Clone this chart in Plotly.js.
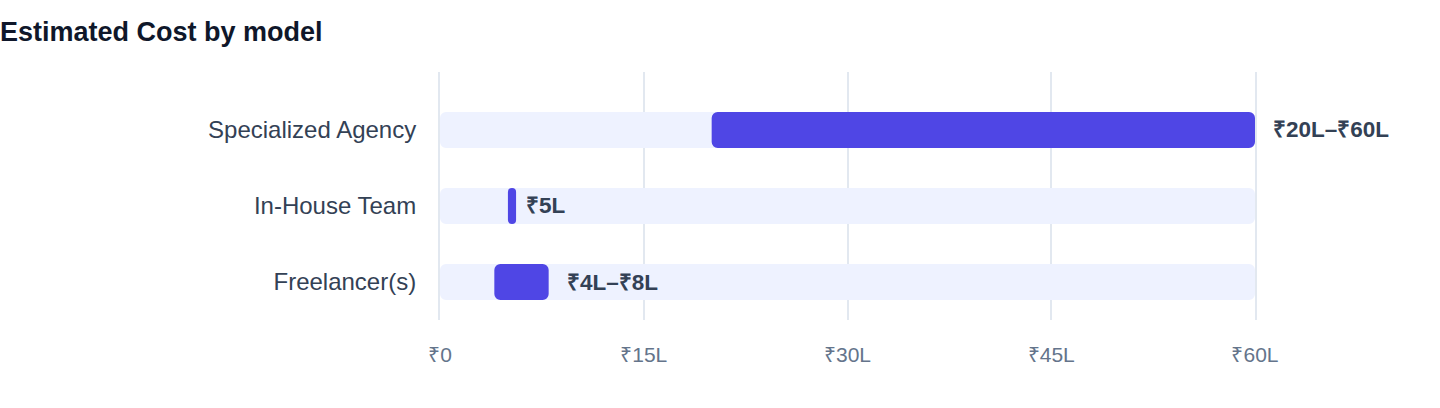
<!DOCTYPE html>
<html>
<head>
<meta charset="utf-8">
<script src="https://cdn.plot.ly/plotly-3.0.1.min.js"></script>
<style>
  html, body { margin: 0; padding: 0; background: #fff; }
  #chart { width: 1440px; height: 408px; }
</style>
</head>
<body>
<div id="chart"></div>
<script>
// cost ranges in lakh rupees, bottom to top
const models = ['Freelancer(s)', 'In-House Team', 'Specialized Agency'];
const lowCost = [4, 5, 20];
const highCost = [8, 5, 60];
const costLabels = ['₹4L–₹8L', '₹5L', '₹20L–₹60L'];
const scaleMax = 60;
const tickValues = [0, 15, 30, 45, 60];
const tickLabels = ['₹0', '₹15L', '₹30L', '₹45L', '₹60L'];

const FONT = '"Helvetica Neue", Helvetica, Arial, "Liberation Sans", sans-serif';
const GRID = '#E2E8F0';

// a single-point estimate still needs a visible sliver
const minSpan = 0.6;
const spans = lowCost.map((lo, i) => Math.max(highCost[i] - lo, minSpan));

const track = {
  type: 'bar',
  orientation: 'h',
  y: models,
  x: models.map(() => scaleMax),
  base: models.map(() => 0),
  width: 0.474,
  marker: { color: '#EEF2FF', cornerradius: 6 },
  hoverinfo: 'skip',
  showlegend: false,
};

const range = {
  type: 'bar',
  orientation: 'h',
  y: models,
  x: spans,
  base: lowCost,
  width: 0.474,
  marker: { color: '#4F46E5', cornerradius: 6 },
  hovertemplate: '%{y}<extra></extra>',
  showlegend: false,
};

const annotations = models.map((m, i) => ({
  x: highCost[i],
  y: m,
  xref: 'x',
  yref: 'y',
  text: costLabels[i],
  showarrow: false,
  xanchor: 'left',
  yanchor: 'middle',
  xshift: 16,
  font: { family: FONT, size: 22.5, color: '#334155', weight: 700 },
}));

const layout = {
  width: 1440,
  height: 408,
  margin: { l: 440, r: 185, t: 72, b: 88 },
  paper_bgcolor: '#ffffff',
  plot_bgcolor: '#ffffff',
  barmode: 'overlay',
  title: {
    text: '<b>Estimated Cost by model</b>',
    xref: 'container',
    yref: 'container',
    x: 0,
    xanchor: 'left',
    y: 1 - 32 / 408,
    yanchor: 'middle',
    font: { family: FONT, size: 27, color: '#0F172A' },
  },
  xaxis: {
    range: [0, scaleMax],
    tickvals: tickValues,
    ticktext: tickLabels,
    showgrid: true,
    gridcolor: GRID,
    gridwidth: 2,
    zeroline: false,
    showline: false,
    ticks: '',
    ticklabelstandoff: 20,
    tickfont: { family: FONT, size: 21, color: '#64748B' },
    layer: 'below traces',
    fixedrange: true,
  },
  yaxis: {
    type: 'category',
    categoryorder: 'array',
    categoryarray: models,
    range: [-0.5, 2.763],
    showgrid: false,
    zeroline: false,
    // edge lines stand in for the gridlines at 0 and 60
    showline: true,
    mirror: true,
    linecolor: GRID,
    linewidth: 2,
    layer: 'below traces',
    ticks: '',
    ticklabelstandoff: 17,
    tickfont: { family: FONT, size: 24, color: '#334155' },
    fixedrange: true,
  },
  annotations,
};

Plotly.newPlot('chart', [track, range], layout, { displayModeBar: false, staticPlot: true });
</script>
</body>
</html>
